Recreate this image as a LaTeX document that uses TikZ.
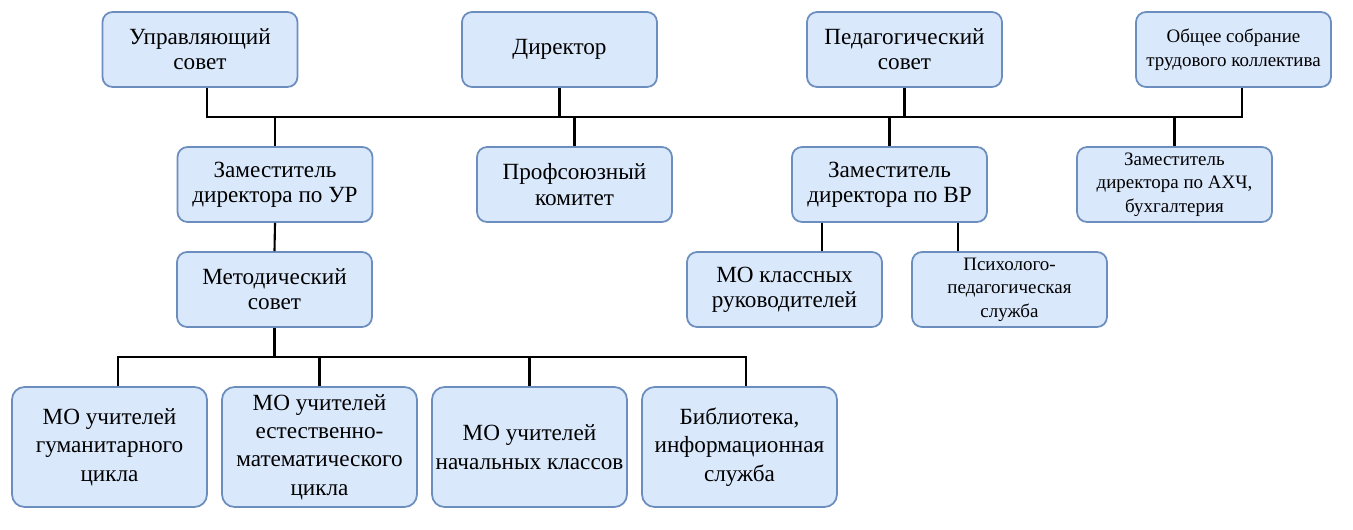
\documentclass[tikz,border=0pt]{standalone}
\usepackage{fontspec}
\setmainfont{Liberation Serif}
\definecolor{boxfill}{HTML}{DAE8FC}
\definecolor{boxline}{HTML}{6C8EBF}
\begin{document}
\begin{tikzpicture}[x=0.02cm, y=-0.02cm,
    unit/.style={draw=boxline, fill=boxfill, line width=1pt, rounded corners=0.2cm,
      minimum width=3.9cm, minimum height=1.5cm, align=center, inner sep=1pt,
      font=\fontsize{13.2}{14.4}\selectfont},
    smallunit/.style={unit, font=\fontsize{10.8}{13.4}\selectfont},
    lowunit/.style={unit, minimum height=2.4cm, rounded corners=0.25cm,
      font=\fontsize{13.2}{16.2}\selectfont},
    wire/.style={line width=1.2pt}]
  \useasboundingbox (0,0) rectangle (1353,529);
  % Top row
  \node[unit] (upr) at (200,49.5) {Управляющий\\совет};
  \node[unit] (dir) at (559.5,49.5) {Директор};
  \node[unit] (ped) at (904.5,49.5) {Педагогический\\совет};
  \node[smallunit] (obsh) at (1233.5,49.5) {Общее собрание\\трудового коллектива};
  % Second row
  \node[unit] (zur) at (275,184.5) {Заместитель\\директора по УР};
  \node[unit] (prof) at (574.5,184.5) {Профсоюзный\\комитет};
  \node[unit] (zvr) at (889.5,184.5) {Заместитель\\директора по ВР};
  \node[smallunit] (zahch) at (1174.5,184.5) {Заместитель\\директора по АХЧ,\\бухгалтерия};
  % Third row
  \node[unit] (met) at (274.5,289.5) {Методический\\совет};
  \node[unit] (mokl) at (784.5,289.5) {МО классных\\руководителей};
  \node[smallunit] (psy) at (1009.5,289.5) {Психолого-\\педагогическая\\служба};
  % Bottom row
  \node[lowunit] (mogum) at (109.5,447) {МО учителей\\гуманитарного\\цикла};
  \node[lowunit] (moest) at (319.5,447) {МО учителей\\естественно-\\математического\\цикла};
  \node[lowunit] (monach) at (529.5,447) {МО учителей\\начальных классов};
  \node[lowunit] (bibl) at (739.5,447) {Библиотека,\\информационная\\служба};
  % Main bus
  \coordinate (busl) at (207,117);
  \coordinate (busr) at (1242,117);
  \draw[wire] (upr.south -| busl) -- (busl) -- (busr) -- (obsh.south -| busr);
  \draw[wire] (dir.south) -- (dir.south |- busl);
  \draw[wire] (ped.south) -- (ped.south |- busl);
  \draw[wire] (zur.north) -- (zur.north |- busl);
  \draw[wire] (prof.north) -- (prof.north |- busl);
  \draw[wire] (zvr.north) -- (zvr.north |- busl);
  \draw[wire] (zahch.north) -- (zahch.north |- busl);
  % Deputies
  \draw[wire] (zur.south) -- (met.north);
  \coordinate (kl) at (822,0);
  \coordinate (ps) at (958,0);
  \draw[wire] (zvr.south -| kl) -- (mokl.north -| kl);
  \draw[wire] (zvr.south -| ps) -- (psy.north -| ps);
  % Methodical bus
  \coordinate (lowl) at (118,357);
  \coordinate (lowr) at (746,357);
  \draw[wire] (mogum.north -| lowl) -- (lowl) -- (lowr) -- (bibl.north -| lowr);
  \draw[wire] (met.south) -- (met.south |- lowl);
  \draw[wire] (moest.north) -- (moest.north |- lowl);
  \draw[wire] (monach.north) -- (monach.north |- lowl);
\end{tikzpicture}
\end{document}
